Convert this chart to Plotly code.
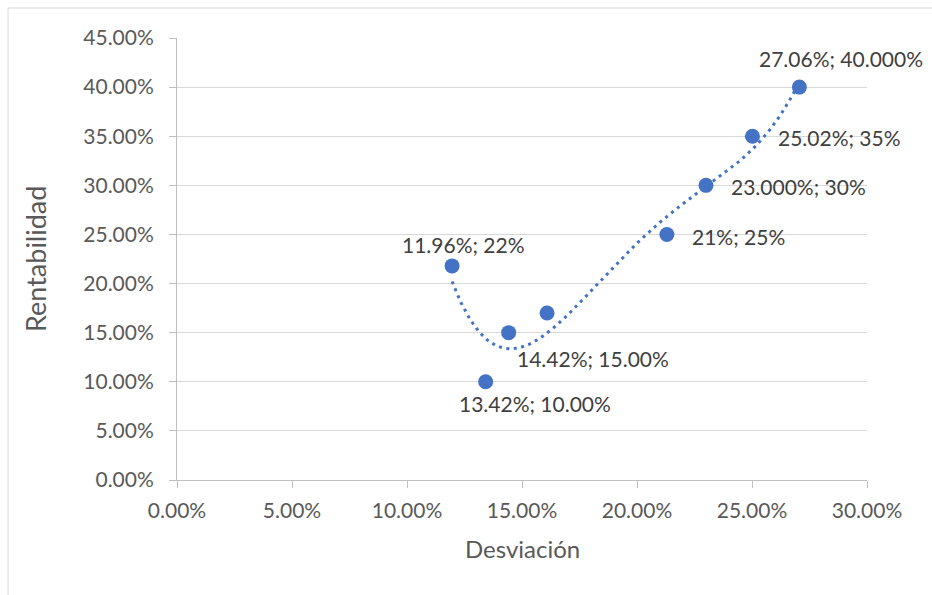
import numpy as np
import plotly.graph_objects as go

# Data
desviacion = [0.1196, 0.1342, 0.1442, 0.1609, 0.2130, 0.2300, 0.2502, 0.2706]
rentabilidad = [0.218, 0.100, 0.150, 0.170, 0.250, 0.300, 0.350, 0.400]
point_labels = ["11.96%; 22%", "13.42%; 10.00%", "14.42%; 15.00%", "",
                "21%; 25%", "23.000%; 30%", "25.02%; 35%", "27.06%; 40.000%"]
x_tick_vals = [0, 0.05, 0.10, 0.15, 0.20, 0.25, 0.30]
y_tick_vals = [0, 0.05, 0.10, 0.15, 0.20, 0.25, 0.30, 0.35, 0.40, 0.45]
trend_order = 4

BLUE = "#4472C4"
FONT = "Lato"

fig = go.Figure()

# polynomial trendline (order 4) fitted to the data, as the spreadsheet does
xs = np.linspace(min(desviacion), max(desviacion), 300)
coef = np.polyfit(desviacion, rentabilidad, trend_order)
fig.add_trace(go.Scatter(x=xs, y=np.polyval(coef, xs), mode="lines",
                         line=dict(color=BLUE, width=3, dash="3px,4.5px"),
                         hoverinfo="skip", showlegend=False))

fig.add_trace(go.Scatter(x=desviacion, y=rentabilidad, mode="markers",
                         marker=dict(color=BLUE, size=15, line=dict(width=0)),
                         showlegend=False))

# label offsets (pixels): (xshift of left edge, yshift of centre)
offsets = [(-52, 21), (-29, -22), (6, -26), None, (23, -2), (23, -1), (24, -1), (-42, 29)]
annotations = []
for xv, yv, txt, off in zip(desviacion, rentabilidad, point_labels, offsets):
    if not txt:
        continue
    annotations.append(dict(x=xv, y=yv, xref="x", yref="y", text=txt, showarrow=False,
                            xanchor="left", yanchor="middle", xshift=off[0], yshift=off[1],
                            font=dict(family=FONT, size=21, color="#404040")))

annotations.append(dict(x=0.5, y=-0.156, xref="paper", yref="paper", text="Desviación",
                        showarrow=False, xanchor="center", yanchor="middle",
                        font=dict(family=FONT, size=24, color="#595959")))
annotations.append(dict(x=-0.2058, y=0.5, xref="paper", yref="paper", text="Rentabilidad",
                        showarrow=False, xanchor="center", yanchor="middle", textangle=-90,
                        font=dict(family=FONT, size=27, color="#595959")))

fig.update_layout(
    width=932, height=595,
    margin=dict(l=177, r=65, t=38, b=115),
    paper_bgcolor="white", plot_bgcolor="white",
    font=dict(family=FONT, size=21, color="#595959"),
    annotations=annotations,
    shapes=[dict(type="rect", xref="paper", yref="paper",
                 x0=-0.2449, x1=1.2, y0=-0.3, y1=1.0679,
                 line=dict(color="#d9d9d9", width=1), layer="below")],
    xaxis=dict(range=[0, 0.30], tickvals=x_tick_vals, tickformat=".2%",
               showgrid=False, zeroline=False, showline=True, linecolor="#bfbfbf",
               ticks="outside", ticklen=7, tickcolor="#bfbfbf", ticklabelstandoff=5),
    yaxis=dict(range=[0, 0.45], tickvals=y_tick_vals, tickformat=".2%",
               showgrid=True, gridcolor="#d9d9d9", zeroline=False, showline=True,
               linecolor="#bfbfbf", ticks="outside", ticklen=7, tickcolor="#bfbfbf",
               ticklabelstandoff=11),
)

fig.write_html("out.html")
